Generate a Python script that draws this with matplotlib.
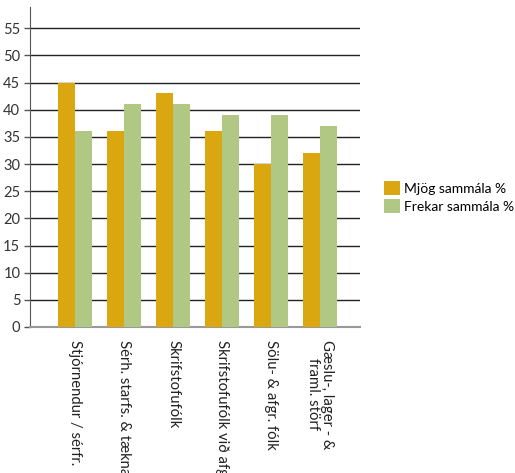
import numpy as np
import matplotlib
matplotlib.use('Agg')
import matplotlib.pyplot as plt

# Hópar starfa og hlutfall svara (%)
flokkar = ['Stjórnendur / sérfr.', 'Sérh. starfs. & tæknamenn', 'Skrifstofufólk',
           'Skrifstofufólk við afgr.', 'Sölu- & afgr. fólk', 'Gæslu-, lager - &\nframl. störf']
mjog_sammala = [45, 36, 43, 36, 30, 32]
frekar_sammala = [36, 41, 41, 39, 39, 37]
y_ticks = [0, 5, 10, 15, 20, 25, 30, 35, 40, 45, 50, 55]

plt.rcParams['font.family'] = ['Lato', 'DejaVu Sans']

fig = plt.figure(figsize=(5.15, 4.73), dpi=100)
ax = fig.add_axes([30 / 515, 146 / 473, 330 / 515, 320 / 473])

x = np.arange(len(flokkar))
w = 0.347
b1 = ax.bar(x - w / 2, mjog_sammala, w, color='#DAA710', label='Mjög sammála %', zorder=3)
b2 = ax.bar(x + w / 2, frekar_sammala, w, color='#B0C883', label='Frekar sammála %', zorder=3)

ax.set_xlim(-0.918, 5.816)
ax.set_ylim(0, 58.9)
ax.set_yticks(y_ticks)
ax.yaxis.grid(True, color='#222222', linewidth=1.0, zorder=0)
ax.tick_params(axis='y', length=4, width=1, color='#555555', labelsize=10.5, pad=3, labelcolor='#333333')
ax.set_xticks(x)
ax.set_xticklabels(flokkar, rotation=-90, va='top', ha='center', fontsize=10.7, color='#222222',
                   linespacing=0.95)
ax.tick_params(axis='x', length=0, pad=9)

for s in ['top', 'right']:
    ax.spines[s].set_visible(False)
ax.spines['left'].set_color('#555555')
ax.spines['bottom'].set_color('#999999')
ax.spines['bottom'].set_linewidth(1.5)

fig.legend(handles=[b1, b2], loc='center left', bbox_to_anchor=(371 / 515, 1 - 197 / 473),
           frameon=False, fontsize=10, handlelength=1.2, handleheight=1.2,
           handletextpad=0.25, labelspacing=0.25)

fig.savefig('out.png', dpi=100)
